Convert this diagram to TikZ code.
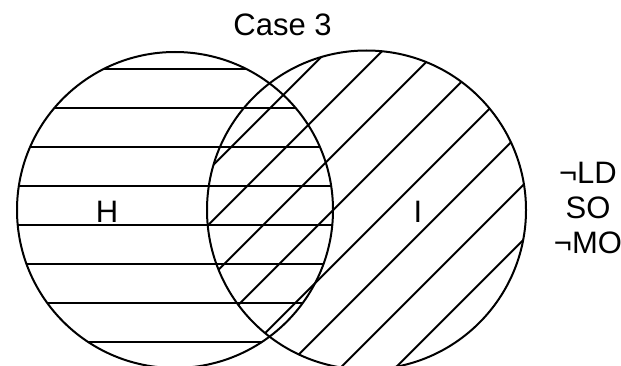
\documentclass[tikz,border=0pt]{standalone}
\usepackage{fontspec}
\setmainfont{Liberation Sans}
\begin{document}
\begin{tikzpicture}[x=1pt,y=1pt,
  outline/.style={line width=2pt,draw=black},
  hatch/.style={line width=2pt,draw=black},
  lbl/.style={inner sep=0pt,anchor=base,font=\fontsize{31}{36}\selectfont}]
\useasboundingbox (0,0) rectangle (621,365);
% left circle H : centre (175,155), r 158 ; right circle I : centre (366.5,155), r 159.5
\coordinate (cH) at (175,155);
\coordinate (cI) at (366.5,155);
\begin{scope}
  \clip (cH) circle (158);
  \foreach \k in {0,...,7}{
    \pgfmathsetmacro{\yy}{365-69.3-38.9*\k}
    \draw[hatch] (0,\yy) -- (400,\yy);
  }
\end{scope}
\begin{scope}
  \clip (cI) circle (159.5);
  \foreach \k in {0,...,7}{
    \pgfmathsetmacro{\cc}{13.3+55*\k}
    \draw[hatch] (\cc-200,-200) -- (\cc+500,500);
  }
\end{scope}
\draw[outline] (cH) circle (158);
\draw[outline] (cI) circle (159.5);
\node[lbl] (title) at (282.5,329) {Case 3};
\node[lbl] (H) at (107,143) {H};
\node[lbl] (I) at (418,143) {I};
\node[lbl] (LD) at (588,182) {¬LD};
\node[lbl] (SO) at (588,147) {SO};
\node[lbl] (MO) at (588,112) {¬MO};
\end{tikzpicture}
\end{document}
